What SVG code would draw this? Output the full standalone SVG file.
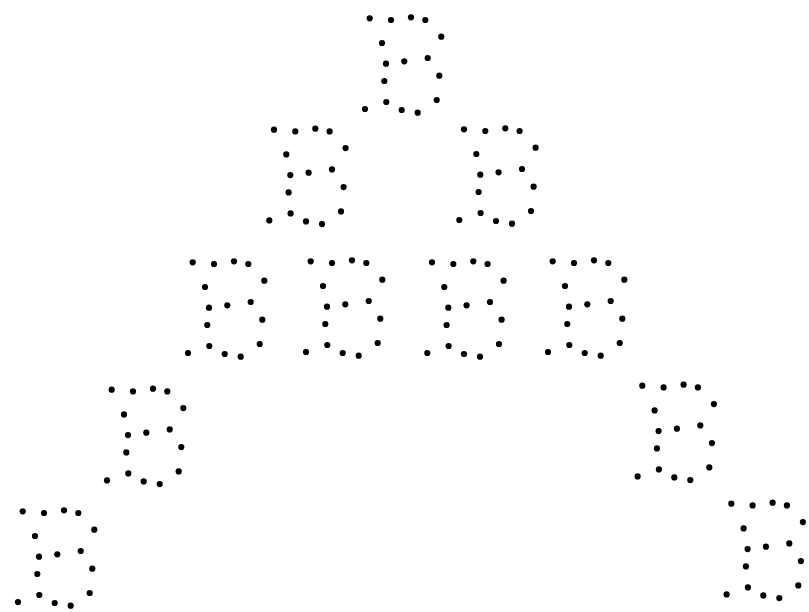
<svg xmlns="http://www.w3.org/2000/svg" xmlns:xlink="http://www.w3.org/1999/xlink" width="809" height="612" viewBox="0 0 809 612">
<style>.d{fill:#000}</style>
<defs>
<g id="b">
<circle class="d" cx="0" cy="0" r="3.1"/>
<circle class="d" cx="21.3" cy="1.7" r="3.1"/>
<circle class="d" cx="41.3" cy="-1" r="3.1"/>
<circle class="d" cx="55.6" cy="1.7" r="3.1"/>
<circle class="d" cx="71.6" cy="18.4" r="3.1"/>
<circle class="d" cx="12.3" cy="24.7" r="3.1"/>
<circle class="d" cx="16.3" cy="45.4" r="3.1"/>
<circle class="d" cx="34.6" cy="43" r="3.1"/>
<circle class="d" cx="58" cy="39.7" r="3.1"/>
<circle class="d" cx="69.6" cy="57.4" r="3.1"/>
<circle class="d" cx="14.6" cy="62.7" r="3.1"/>
<circle class="d" cx="67" cy="81.7" r="3.1"/>
<circle class="d" cx="16.6" cy="83.7" r="3.1"/>
<circle class="d" cx="-4.7" cy="90.7" r="3.1"/>
<circle class="d" cx="32" cy="91.7" r="3.1"/>
<circle class="d" cx="48" cy="94.4" r="3.1"/>
</g>
</defs>
<rect width="809" height="612" fill="#fff"/>
<g id="b1"><use xlink:href="#b" href="#b" x="369.7" y="18.3"/></g>
<g id="b2"><use xlink:href="#b" href="#b" x="274" y="129.7"/></g>
<g id="b3"><use xlink:href="#b" href="#b" x="464" y="129.3"/></g>
<g id="b4"><use xlink:href="#b" href="#b" x="192.7" y="262.3"/></g>
<g id="b5"><use xlink:href="#b" href="#b" x="310.7" y="261.3"/></g>
<g id="b6"><use xlink:href="#b" href="#b" x="432" y="262.3"/></g>
<g id="b7"><use xlink:href="#b" href="#b" x="552.7" y="261.3"/></g>
<g id="b8"><use xlink:href="#b" href="#b" x="111.7" y="389.7"/></g>
<g id="b9"><use xlink:href="#b" href="#b" x="642.3" y="385.7"/></g>
<g id="b10"><use xlink:href="#b" href="#b" x="22.7" y="511.3"/></g>
<g id="b11"><use xlink:href="#b" href="#b" x="731.3" y="503.7"/></g>
</svg>
